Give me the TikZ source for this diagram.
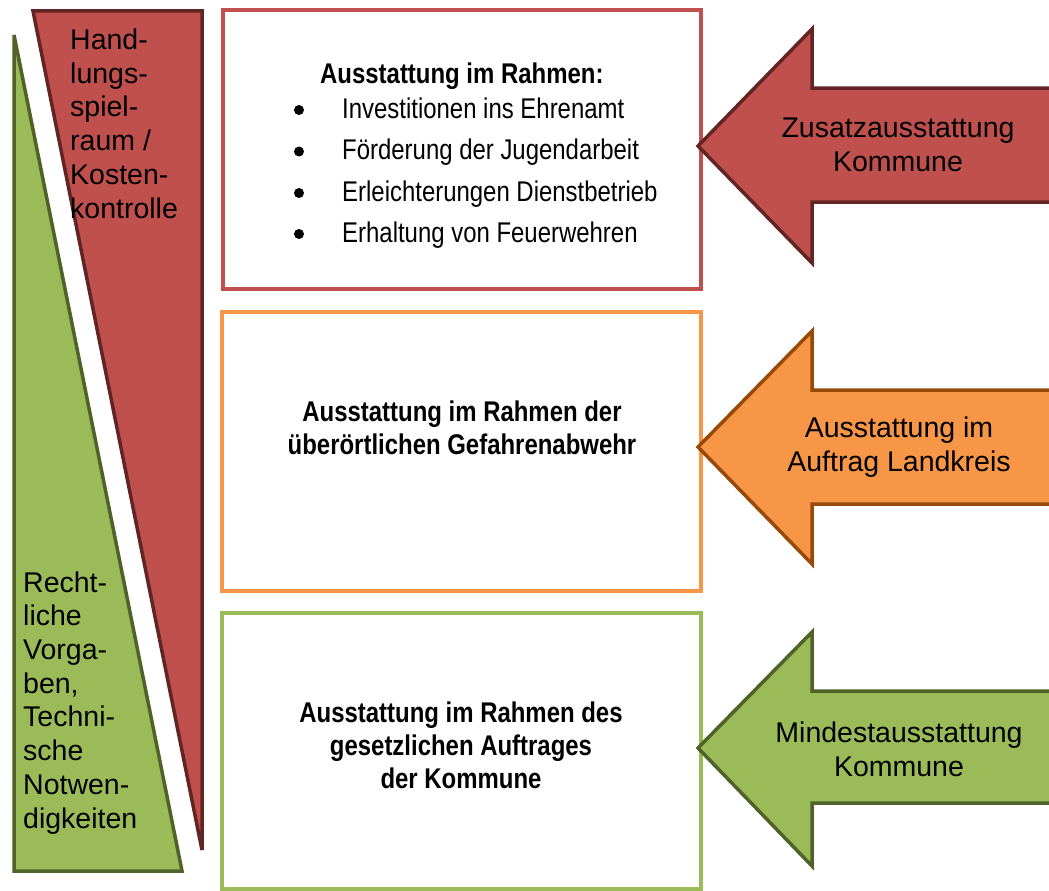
\documentclass[tikz,border=0pt]{standalone}
\usepackage{fontspec}
\setmainfont{Liberation Sans}
\newfontfamily\narrowfont[FakeStretch=0.84]{Liberation Sans}
\definecolor{redF}{HTML}{C0504D}
\definecolor{redD}{HTML}{632523}
\definecolor{orF}{HTML}{F79646}
\definecolor{orD}{HTML}{984807}
\definecolor{grF}{HTML}{9BBB59}
\definecolor{grD}{HTML}{4F6228}
\tikzset{
  wedgeR/.style={fill=redF,draw=redD,line width=3.5pt},
  wedgeG/.style={fill=grF,draw=grD,line width=3.5pt},
  framebox/.style={draw=#1,line width=3.5pt,fill=white},
  bigarrow/.style={line width=3.5pt,line join=miter},
  sidetext/.style={font=\fontsize{28.5}{33.7}\selectfont,align=left,inner sep=0pt,anchor=base west},
  arrowtext/.style={font=\fontsize{28.5}{34}\selectfont,align=center,inner sep=0pt},
  boxtext/.style={font=\narrowfont\bfseries\fontsize{28.5}{33}\selectfont,align=center,inner sep=0pt},
  itemtext/.style={font=\narrowfont\fontsize{28.5}{34}\selectfont,inner sep=0pt,anchor=base west},
}
\begin{document}
\begin{tikzpicture}[x=1pt,y=-1pt]
\useasboundingbox (0,0) rectangle (1049,891);
\clip (0,0) rectangle (1049,891);
% wedges
\draw[wedgeG] (14,35) -- (14,871) -- (182,871) -- cycle;
\draw[wedgeR] (33,11) -- (202,11) -- (202,850) -- cycle;
\node[sidetext] (handl) at (70,218) {Hand-\\lungs-\\spiel-\\raum /\\Kosten-\\kontrolle};
\node[sidetext] (recht) at (23,828) {Recht-\\liche\\Vorga-\\ben,\\Techni-\\sche\\Notwen-\\digkeiten};
% boxes
\node[framebox=redF,minimum width=478pt,minimum height=279pt,inner sep=0pt] (box1) at (462,149.5) {};
\node[framebox=orF,minimum width=479pt,minimum height=279pt,inner sep=0pt] (box2) at (461.5,451.5) {};
\node[framebox=grF,minimum width=479pt,minimum height=276pt,inner sep=0pt] (box3) at (461.5,751) {};
% box 1 content
\node[itemtext,font=\narrowfont\bfseries\fontsize{28.5}{34}\selectfont] (head1) at (320,83) {Ausstattung im Rahmen:};
\foreach \y/\t/\n in {118/Investitionen ins Ehrenamt/i1,159.5/Förderung der Jugendarbeit/i2,201/Erleichterungen Dienstbetrieb/i3,242/Erhaltung von Feuerwehren/i4}{
  \node[itemtext] (\n) at (342,\y) {\t};
  \fill ([xshift=-43pt,yshift=8pt]\n.base west) circle (5pt);
}
\node[boxtext] (t2) at (462,428) {Ausstattung im Rahmen der\\überörtlichen Gefahrenabwehr};
\node[boxtext] (t3) at (461,745) {Ausstattung im Rahmen des\\gesetzlichen Auftrages\\der Kommune};
% arrows
\draw[bigarrow,fill=redF,draw=redD] (698,146) -- (812,29) -- (812,88) -- (1065,88) -- (1065,202) -- (812,202) -- (812,263) -- cycle;
\draw[bigarrow,fill=orF,draw=orD] (698,447) -- (812,331) -- (812,390) -- (1065,390) -- (1065,504) -- (812,504) -- (812,564) -- cycle;
\draw[bigarrow,fill=grF,draw=grD] (698,748) -- (812,632) -- (812,691) -- (1065,691) -- (1065,803) -- (812,803) -- (812,866) -- cycle;
\node[arrowtext] (a1) at (898,145) {Zusatzausstattung\\Kommune};
\node[arrowtext] (a2) at (899,447) {Ausstattung im\\Auftrag Landkreis};
\node[arrowtext] (a3) at (899,749) {Mindestausstattung\\Kommune};
\end{tikzpicture}
\end{document}
